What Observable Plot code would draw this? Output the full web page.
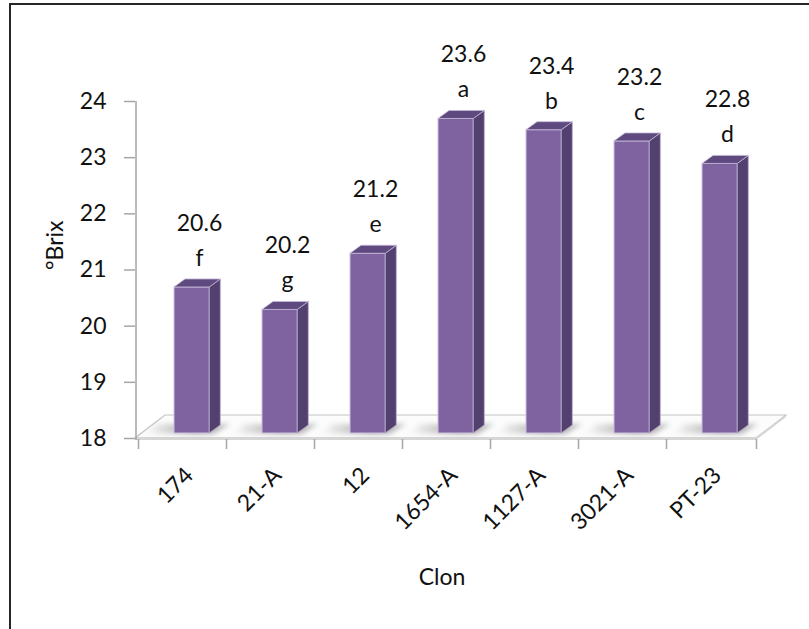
<!DOCTYPE html>
<html>
<head>
<meta charset="utf-8">
<script src="https://cdn.jsdelivr.net/npm/d3@7"></script>
<script src="https://cdn.jsdelivr.net/npm/@observablehq/plot@0.6"></script>
<style>
  html, body { margin: 0; padding: 0; background: #fff; overflow: hidden; width: 809px; height: 629px; }
  #frame { position: absolute; left: 9px; top: 3px; width: 1000px; height: 1000px; border: 2.5px solid #262626; box-sizing: border-box; }
  #chart { position: absolute; left: 0; top: 0; }
</style>
</head>
<body>
<div id="frame"></div>
<div id="chart"></div>
<script>
// Sugar content (°Brix) per clone, with the mean-separation letter of each clone
const clones = ["174", "21-A", "12", "1654-A", "1127-A", "3021-A", "PT-23"];
const brix = [20.6, 20.2, 21.2, 23.6, 23.4, 23.2, 22.8];
const groups = ["f", "g", "e", "a", "b", "c", "d"];
const yTicks = [18, 19, 20, 21, 22, 23, 24];
const yBase = 18;

const data = clones.map((clon, i) => ({clon, brix: brix[i], group: groups[i]}));

// pseudo-3D geometry (pixels)
const faceL = 36, faceR = 16.7;   // front face inset inside each band
const lift = -5;                   // bars stand a little behind the front edge
const depthX = 11, depthY = -8;    // bar depth
const floorX = 30, floorY = -23;   // floor depth

const colFront = "#7f63a1", colSide = "#52406e", colTop = "#5f4a80";

// floor plane, axis line and category ticks
function floor(index, {x, y}) {
  const [x0, x1] = x.range();
  const y0 = y(yBase);
  const g = d3.create("svg:g");
  g.append("path")
    .attr("d", `M${x0},${y0}L${x1},${y0}L${x1 + floorX},${y0 + floorY}L${x0 + floorX},${y0 + floorY}Z`)
    .attr("fill", "#fcfcfc").attr("stroke", "#c3c3c3").attr("stroke-width", 1.2);
  g.append("rect").attr("x", x0).attr("y", y0 - 1).attr("width", x1 - x0).attr("height", 3)
    .attr("fill", "#d6d6d6");
  g.append("path")
    .attr("d", `M${x1},${y0 - 1}L${x1 + floorX},${y0 + floorY}L${x1 + floorX},${y0 + floorY + 2}L${x1},${y0 + 2}Z`)
    .attr("fill", "#d6d6d6");
  g.append("line").attr("x1", x0 + 1).attr("x2", x0 + 1).attr("y1", y(yTicks[yTicks.length - 1])).attr("y2", y0 + 2)
    .attr("stroke", "#a6a6a6").attr("stroke-width", 1.5);
  const bounds = clones.map(c => x(c)).concat([x1]);
  for (const b of bounds) {
    g.append("line").attr("x1", b + 0.5).attr("x2", b + 0.5).attr("y1", y0 + 1).attr("y2", y0 + 11)
      .attr("stroke", "#a6a6a6").attr("stroke-width", 1.5);
  }
  return g.node();
}

// soft shadows cast on the floor
function shadows(index, {x, y}) {
  const bw = x.bandwidth();
  const svg = d3.create("svg:g");
  const defs = svg.append("defs");
  defs.append("filter").attr("id", "shblur").attr("x", "-50%").attr("y", "-100%").attr("width", "200%").attr("height", "300%")
    .append("feGaussianBlur").attr("stdDeviation", 2.6);
  const grad = defs.append("linearGradient").attr("id", "shgrad");
  grad.append("stop").attr("offset", "0%").attr("stop-color", "#9a9a9a").attr("stop-opacity", 0);
  grad.append("stop").attr("offset", "60%").attr("stop-color", "#8a8a8a").attr("stop-opacity", 0.8);
  grad.append("stop").attr("offset", "100%").attr("stop-color", "#9a9a9a").attr("stop-opacity", 0.55);
  for (const d of data) {
    const xl = x(d.clon) + faceL, xr = x(d.clon) + bw - faceR;
    const yb = y(yBase) + lift;
    svg.append("path")
      .attr("d", `M${xl - 30},${yb + 1}L${xr + 4},${yb + 1}L${xr + depthX + 10},${yb + depthY - 1}L${xl - 18},${yb + depthY - 1}Z`)
      .attr("fill", "url(#shgrad)").attr("filter", "url(#shblur)");
  }
  return svg.node();
}

// side and top faces of each column
function depthFaces(index, {x, y}) {
  const bw = x.bandwidth();
  const g = d3.create("svg:g");
  for (const d of data) {
    const xl = x(d.clon) + faceL, xr = x(d.clon) + bw - faceR;
    const yt = y(d.brix) + lift, yb = y(yBase) + lift;
    g.append("path")
      .attr("d", `M${xr},${yb}L${xr + depthX},${yb + depthY}L${xr + depthX},${yt + depthY}L${xr},${yt}Z`)
      .attr("fill", colSide).attr("stroke", "#b9abcf").attr("stroke-width", 0.8).attr("stroke-linejoin", "round");
    g.append("path")
      .attr("d", `M${xl},${yt}L${xl + depthX},${yt + depthY}L${xr + depthX},${yt + depthY}L${xr},${yt}Z`)
      .attr("fill", colTop).attr("stroke", "#c4b8d8").attr("stroke-width", 0.8).attr("stroke-linejoin", "round");
  }
  return g.node();
}

const chart = Plot.plot({
  width: 809,
  height: 629,
  marginLeft: 135,
  marginRight: 53,
  marginTop: 101,
  marginBottom: 191,
  style: {fontFamily: "Lato, sans-serif", fontSize: "23px", color: "#111", background: "transparent"},
  x: {type: "band", domain: clones, padding: 0, axis: null},
  y: {domain: [yBase, 24], axis: null},
  marks: [
    floor,
    shadows,
    Plot.barY(data, {
      x: "clon", y1: yBase, y2: "brix",
      insetLeft: faceL, insetRight: faceR, dy: lift,
      fill: colFront, stroke: "#cdc2dd", strokeWidth: 1
    }),
    depthFaces,
    Plot.axisY({ticks: yTicks, tickFormat: d => String(d), tickSize: 11, tickPadding: 18, stroke: "#a6a6a6", strokeWidth: 1.5, fill: "#111", fontSize: 23, label: null}),
    Plot.text(data, {x: "clon", y: "brix", text: d => d.brix.toFixed(1), dx: 17, dy: -69, lineAnchor: "middle", fontSize: 23, fill: "#111"}),
    Plot.text(data, {x: "clon", y: "brix", text: "group", dx: 17, dy: -34, lineAnchor: "middle", fontSize: 23, fill: "#111"}),
    Plot.text(clones, {x: d => d, text: d => d, frameAnchor: "bottom", dx: 7, dy: 33, rotate: -45, textAnchor: "end", lineAnchor: "middle", fontSize: 23, fill: "#111"}),
    Plot.text(["°Brix"], {text: d => d, frameAnchor: "left", dx: -80, rotate: -90, lineAnchor: "middle", fontSize: 23, fill: "#111"}),
    Plot.text(["Clon"], {text: d => d, frameAnchor: "bottom", dx: -4, dy: 139, lineAnchor: "middle", fontSize: 23, fill: "#111"})
  ]
});

document.getElementById("chart").append(chart);
</script>
</body>
</html>
